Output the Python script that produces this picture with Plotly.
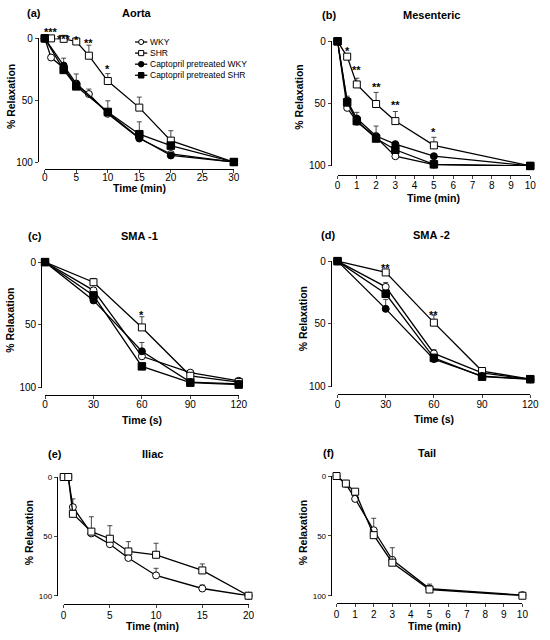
import plotly.graph_objects as go

W, H = 550, 640
FONT = "Arial, 'Liberation Sans', Helvetica, sans-serif"

series_names = ["WKY", "SHR", "Captopril pretreated WKY", "Captopril pretreated SHR"]

# ---------------- data (% relaxation, mean and upward SEM) ----------------
# (a) Aorta, time in min
aorta_t = [0, 1, 3, 5, 7, 10, 15, 20, 30]
aorta_t_capt = [0, 3, 5, 10, 15, 20, 30]
aorta_wky = [0, 15.5, 24, 38, 45, 61, 81, 93.5, 100]
aorta_wky_err = [0, 0, 0, 0, 4, 0, 0, 0, 0]
aorta_shr = [0, 0, 0.4, 2.5, 14, 34.5, 56, 82.7, 100]
aorta_shr_err = [0, 0, 0, 0, 8.5, 6, 8.5, 8, 0]
aorta_cwky = [0, 22, 36.5, 60, 80.5, 94.7, 100]
aorta_cwky_err = [0, 6, 0, 0, 0, 0, 0]
aorta_cshr = [0, 25.5, 38.8, 59.5, 77.5, 86.7, 100]
aorta_cshr_err = [0, 0, 10, 9, 10, 0, 0]
aorta_star_x = [1, 3, 5, 7, 10]
aorta_star_y = [-7.7, -1.8, -1.2, 1.6, 22]
aorta_star_txt = ["***", "***", "*", "**", "*"]

# (b) Mesenteric, time in min
mes_t = [0, 0.5, 1, 2, 3, 5, 10]
mes_wky = [0, 53.4, 64.5, 77, 92.2, 99, 100]
mes_wky_err = [0, 0, 0, 0, 0, 0, 0]
mes_shr = [0, 12.3, 34.6, 50.3, 64, 83.5, 100]
mes_shr_err = [0, 0, 5, 9.3, 7.7, 6.5, 0]
mes_cwky = [0, 47.5, 62, 76, 82.5, 92.2, 100]
mes_cwky_err = [0, 0, 5, 0, 0, 0, 0]
mes_cshr = [0, 49, 64, 78, 87, 98.7, 100]
mes_cshr_err = [0, 5, 0, 10, 0, 0, 0]
mes_star_x = [0.5, 1, 2, 3, 5]
mes_star_y = [5.2, 21, 34.6, 49, 70]
mes_star_txt = ["*", "**", "**", "**", "*"]

# (c) SMA -1, time in s
sma1_t = [0, 30, 60, 90, 120]
sma1_wky = [0, 22.5, 75, 88, 94.5]
sma1_wky_err = [0, 0, 0, 0, 0]
sma1_shr = [0, 16, 52, 90.5, 95.5]
sma1_shr_err = [0, 3, 8.5, 0, 0]
sma1_cwky = [0, 30.5, 71, 95.5, 97]
sma1_cwky_err = [0, 0, 7, 0, 0]
sma1_cshr = [0, 26.5, 83, 96, 97.5]
sma1_cshr_err = [0, 0, 0, 0, 0]
sma1_star_x = [60]
sma1_star_y = [40]
sma1_star_txt = ["*"]

# (d) SMA -2, time in s
sma2_t = [0, 30, 60, 90, 120]
sma2_wky = [0, 20.5, 73.5, 89, 94]
sma2_wky_err = [0, 3.5, 3, 0, 0]
sma2_shr = [0, 9, 49, 87.5, 94]
sma2_shr_err = [0, 0, 6, 0, 0]
sma2_cwky = [0, 38, 78, 91.5, 94]
sma2_cwky_err = [0, 7.5, 0, 0, 0]
sma2_cshr = [0, 26, 77, 92, 94]
sma2_cshr_err = [0, 0, 0, 0, 0]
sma2_star_x = [30, 60]
sma2_star_y = [3.4, 40.5]
sma2_star_txt = ["**", "**"]

# (e) Iliac, time in min
iliac_t = [0, 0.5, 1, 3, 5, 7, 10, 15, 20]
iliac_wky = [0, 0, 25.4, 47.5, 56.6, 68.2, 82.9, 93.9, 100]
iliac_wky_err = [0, 0, 7, 0, 0, 0, 6, 3, 0]
iliac_shr = [0, 0, 31, 46, 52, 62.7, 65.5, 78.7, 100]
iliac_shr_err = [0, 0, 0, 12.5, 11, 8.3, 9.7, 5.5, 0]

# (f) Tail, time in min
tail_t = [0, 0.5, 1, 2, 3, 5, 10]
tail_wky = [0, 6.5, 19.1, 45.3, 70, 94, 99.5]
tail_wky_err = [0, 0, 0, 10, 0, 0, 0]
tail_shr = [0, 6.3, 13.1, 49.4, 72.4, 94.8, 100]
tail_shr_err = [0, 0, 0, 0, 12.5, 4.5, 0]

# ---------------- styles ----------------
STYLE = {
    0: dict(symbol="circle", color="white", size=7),
    1: dict(symbol="square", color="white", size=7),
    2: dict(symbol="circle", color="black", size=7),
    3: dict(symbol="square", color="black", size=7.5),
}


def fx(px):
    return px / W


def fy(py):
    return 1 - py / H


panels = [
    dict(letter="(a)", title="Aorta", xlab="Time (min)", xr=[0, 30], xt=[0, 5, 10, 15, 20, 25, 30],
         ybox=(33, 159), yax_x=35.7, xbox=(42.7, 236), xax_y=165.7, xso=-4,
         tpos=(137, 7), lpos=(32, 7), xlpos=(140, 185), ylpos=(8, 92), ytf=10,
         series=[(0, aorta_t, aorta_wky, aorta_wky_err), (1, aorta_t, aorta_shr, aorta_shr_err),
                 (2, aorta_t_capt, aorta_cwky, aorta_cwky_err), (3, aorta_t_capt, aorta_cshr, aorta_cshr_err)],
         stars=(aorta_star_x, aorta_star_y, aorta_star_txt)),
    dict(letter="(b)", title="Mesenteric", xlab="Time (min)", xr=[0, 10], xt=list(range(0, 11)),
         ybox=(36, 163), yax_x=335, xbox=(342, 539), xax_y=172.3, xso=-2,
         tpos=(438, 9), lpos=(333, 9), xlpos=(440, 196), ylpos=(303, 93), ytf=10,
         series=[(0, mes_t, mes_wky, mes_wky_err), (1, mes_t, mes_shr, mes_shr_err),
                 (2, mes_t, mes_cwky, mes_cwky_err), (3, mes_t, mes_cshr, mes_cshr_err)],
         stars=(mes_star_x, mes_star_y, mes_star_txt)),
    dict(letter="(c)", title="SMA -1", xlab="Time (s)", xr=[0, 120], xt=[0, 30, 60, 90, 120],
         ybox=(261, 389), yax_x=39, xbox=(43, 241), xax_y=396.7, xso=-3,
         tpos=(140, 234), lpos=(33, 234), xlpos=(142, 422), ylpos=(7, 320), ytf=10,
         series=[(0, sma1_t, sma1_wky, sma1_wky_err), (1, sma1_t, sma1_shr, sma1_shr_err),
                 (2, sma1_t, sma1_cwky, sma1_cwky_err), (3, sma1_t, sma1_cshr, sma1_cshr_err)],
         stars=(sma1_star_x, sma1_star_y, sma1_star_txt)),
    dict(letter="(d)", title="SMA -2", xlab="Time (s)", xr=[0, 120], xt=[0, 30, 60, 90, 120],
         ybox=(260, 388), yax_x=335, xbox=(342, 539), xax_y=395, xso=-2,
         tpos=(438, 233), lpos=(332, 233), xlpos=(441, 421), ylpos=(307, 319), ytf=10,
         series=[(0, sma2_t, sma2_wky, sma2_wky_err), (1, sma2_t, sma2_shr, sma2_shr_err),
                 (2, sma2_t, sma2_cwky, sma2_cwky_err), (3, sma2_t, sma2_cshr, sma2_cshr_err)],
         stars=(sma2_star_x, sma2_star_y, sma2_star_txt)),
    dict(letter="(e)", title="Iliac", xlab="Time (min)", xr=[0, 20], xt=[0, 5, 10, 15, 20],
         ybox=(480, 601), yax_x=55, xbox=(62, 251), xax_y=609, xso=-1,
         tpos=(153, 457), lpos=(53, 457), xlpos=(152.5, 632), ylpos=(27, 537), ytf=8,
         series=[(0, iliac_t, iliac_wky, iliac_wky_err), (1, iliac_t, iliac_shr, iliac_shr_err)],
         stars=([], [], [])),
    dict(letter="(f)", title="Tail", xlab="Time (min)", xr=[0, 10], xt=list(range(0, 11)),
         ybox=(479, 601), yax_x=335, xbox=(341, 531), xax_y=608, xso=-1,
         tpos=(433, 456), lpos=(333, 456), xlpos=(441, 632), ylpos=(307, 537), ytf=8,
         series=[(0, tail_t, tail_wky, tail_wky_err), (1, tail_t, tail_shr, tail_shr_err)],
         stars=([], [], [])),
]

fig = go.Figure()
layout = dict(width=W, height=H, autosize=False, margin=dict(l=0, r=0, t=0, b=0, pad=0),
              paper_bgcolor="white", plot_bgcolor="white", showlegend=False,
              font=dict(family=FONT, color="black"))
annotations = []
shapes = []

for i, p in enumerate(panels):
    n = "" if i == 0 else str(i + 1)
    xa, ya = "x" + n, "y" + n
    layout["xaxis" + n] = dict(
        domain=[fx(p["xbox"][0]), fx(p["xbox"][1])], anchor="free", position=fy(p["xax_y"]),
        range=p["xr"], tickvals=p["xt"], ticks="outside", ticklen=3, tickwidth=1,
        ticklabelstandoff=p["xso"],
        showline=True, linecolor="black", linewidth=1, showgrid=False, zeroline=False,
        tickfont=dict(size=10, family=FONT, color="black"), fixedrange=True)
    layout["yaxis" + n] = dict(
        domain=[fy(p["ybox"][1]), fy(p["ybox"][0])], anchor="free", position=fx(p["yax_x"]),
        range=[100, 0], tickvals=[0, 50, 100], ticks="outside", ticklen=3, tickwidth=1,
        showline=True, linecolor="black", linewidth=1, showgrid=False, zeroline=False,
        tickfont=dict(size=p["ytf"], family=FONT, color="black"), fixedrange=True)

    for (k, t, y, e) in p["series"]:
        st = STYLE[k]
        fig.add_trace(go.Scatter(
            x=t, y=y, xaxis=xa, yaxis=ya, mode="lines+markers", name=series_names[k],
            line=dict(color="black", width=1.3),
            marker=dict(symbol=st["symbol"], size=st["size"], color=st["color"],
                        line=dict(color="black", width=1)),
            error_y=dict(type="data", symmetric=False, array=[0] * len(e), arrayminus=e,
                         color="#333333", thickness=0.9, width=2.5),
            cliponaxis=False, showlegend=False, hoverinfo="skip"))

    # significance stars (placed in data units; values above 0 shifted in pixels)
    ppu = (p["ybox"][1] - p["ybox"][0]) / 100.0
    sx, sy, stxt = p["stars"]
    for x, y, t in zip(sx, sy, stxt):
        yy = max(y, 0)
        shift = -min(y, 0) * ppu
        annotations.append(dict(x=x, y=yy, xref=xa, yref=ya, text="<b>%s</b>" % t, showarrow=False,
                                xanchor="center", yanchor="middle", yshift=shift - 3,
                                font=dict(size=11, family=FONT, color="black")))

    # titles and axis labels
    annotations.append(dict(x=fx(p["tpos"][0]), y=fy(p["tpos"][1]), xref="paper", yref="paper",
                            text="<b>%s</b>" % p["title"], showarrow=False, xanchor="center",
                            yanchor="middle", font=dict(size=11, family=FONT)))
    annotations.append(dict(x=fx(p["lpos"][0]), y=fy(p["lpos"][1]), xref="paper", yref="paper",
                            text="<b>%s</b>" % p["letter"], showarrow=False, xanchor="center",
                            yanchor="middle", font=dict(size=11, family=FONT)))
    annotations.append(dict(x=fx(p["xlpos"][0]), y=fy(p["xlpos"][1]), xref="paper", yref="paper",
                            text="<b>%s</b>" % p["xlab"], showarrow=False, xanchor="center",
                            yanchor="middle", font=dict(size=10.5, family=FONT)))
    annotations.append(dict(x=fx(p["ylpos"][0]), y=fy(p["ylpos"][1]), xref="paper", yref="paper",
                            text="<b>% Relaxation</b>", showarrow=False, xanchor="center",
                            yanchor="middle", textangle=-90, font=dict(size=10.5, family=FONT)))

# ---------------- legend (panel a) ----------------
LEG_X0, LEG_X1, LEG_Y0, LEG_DY = 135, 147.5, 36.7, 11.3
for k, name in enumerate(series_names):
    st = STYLE[k]
    yc = LEG_Y0 + k * LEG_DY
    shapes.append(dict(type="line", xref="paper", yref="paper", x0=fx(LEG_X0), x1=fx(LEG_X1),
                       y0=fy(yc), y1=fy(yc), line=dict(color="black", width=1.3)))
    xc = (LEG_X0 + LEG_X1) / 2
    r = 2.6 if k < 2 else 2.8
    shapes.append(dict(type="circle" if st["symbol"] == "circle" else "rect",
                       xref="paper", yref="paper", x0=fx(xc - r), x1=fx(xc + r),
                       y0=fy(yc + r), y1=fy(yc - r), fillcolor=st["color"],
                       line=dict(color="black", width=1)))
    annotations.append(dict(x=fx(LEG_X1 + 1), y=fy(yc), xref="paper", yref="paper", text=name,
                            showarrow=False, xanchor="left", yanchor="middle",
                            font=dict(size=8.5, family=FONT, color="black")))

layout["annotations"] = annotations
layout["shapes"] = shapes
fig.update_layout(**layout)
fig.write_html("out.html", config={"displayModeBar": False, "staticPlot": True},
               post_script="document.body.style.margin='0px';document.body.style.padding='0px';"
                           "document.documentElement.style.overflow='hidden';")
